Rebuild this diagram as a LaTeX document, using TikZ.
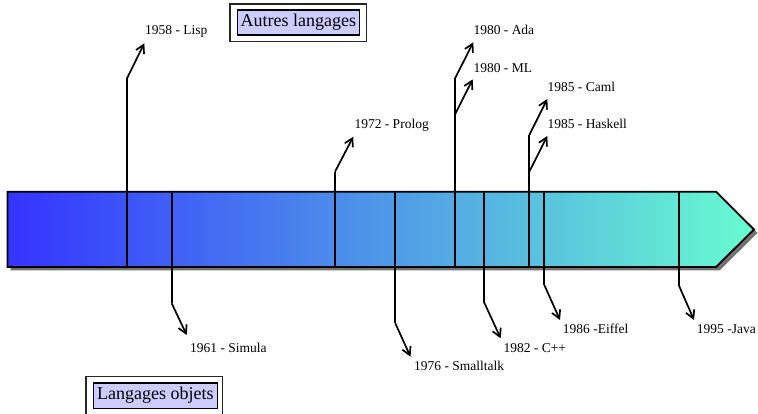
\documentclass[tikz,border=0pt]{standalone}
\usepackage{fontspec}
\setmainfont{Liberation Serif}
\usetikzlibrary{arrows.meta}
\definecolor{barleft}{RGB}{52,52,255}
\definecolor{barright}{RGB}{104,252,208}
\definecolor{boxfill}{RGB}{204,204,255}
\tikzset{
  yearline/.style={line width=1.7pt},
  yeararrow/.style={line width=1.7pt,-{Straight Barb[length=8pt,width=9pt,line width=1.7pt]}},
  yearlabel/.style={anchor=base west,inner sep=0pt,font=\fontsize{13.5}{15}\selectfont},
  titlebox/.style={draw,line width=1.6pt,fill=boxfill,inner xsep=3pt,inner ysep=2pt,font=\fontsize{18}{20}\selectfont},
}
\begin{document}
\begin{tikzpicture}[x=1pt,y=-1pt]
\useasboundingbox (0,0) rectangle (758,414);
% bar shadow
\fill[black!55] (10.5,195) -- (719.5,195) -- (757.5,233) -- (719.5,270.5) -- (10.5,270.5) -- cycle;
% bar
\shade[left color=barleft,right color=barright] (7.5,191.7) -- (716,191.7) -- (754,229.5) -- (716,267) -- (7.5,267) -- cycle;
\draw[line width=1.8pt] (7.5,191.7) -- (716,191.7) -- (754,229.5) -- (716,267) -- (7.5,267) -- cycle;

% title boxes
\draw[line width=1.4pt,draw=black!85] (230,4) rectangle (366.5,41.7);
\node[titlebox,minimum width=122pt,minimum height=25pt] (autres) at (298.3,22.5) {Autres langages};
\draw[line width=1.4pt,draw=black!85] (86,376.7) rectangle (222.7,416);
\node[titlebox,minimum width=124pt,minimum height=25.6pt] (objets) at (155.3,395.5) {Langages objets};

% labels
\node[yearlabel] (lisp) at (145,34.5) {1958 - Lisp};
\node[yearlabel] (prolog) at (354.3,128.3) {1972 - Prolog};
\node[yearlabel] (ada) at (473.3,35) {1980 - Ada};
\node[yearlabel] (ml) at (473.3,72.8) {1980 - ML};
\node[yearlabel] (caml) at (547.3,91.2) {1985 - Caml};
\node[yearlabel] (haskell) at (547.3,128.5) {1985 - Haskell};
\node[yearlabel] (simula) at (190,352.8) {1961 - Simula};
\node[yearlabel] (smalltalk) at (414,370) {1976 - Smalltalk};
\node[yearlabel] (cpp) at (503.3,352.8) {1982 - C++};
\node[yearlabel] (eiffel) at (562.7,333.8) {1986 -Eiffel};
\node[yearlabel] (java) at (696.7,333.8) {1995 -Java};

% coordinates: upward
\coordinate (lispA) at (126.7,267); \coordinate (lispB) at (126.7,79); \coordinate (lispT) at (144.3,43.3);
\coordinate (prologA) at (335,267); \coordinate (prologB) at (335,171.7); \coordinate (prologT) at (353.3,136.7);
\coordinate (adaA) at (454.7,267); \coordinate (adaB) at (454.7,79); \coordinate (adaT) at (473.3,42.3);
\coordinate (mlB) at (454.7,115); \coordinate (mlT) at (472.7,79.3);
\coordinate (camlA) at (529.3,267); \coordinate (camlB) at (529.3,135); \coordinate (camlT) at (547.3,99);
\coordinate (haskellB) at (529.3,171.7); \coordinate (haskellT) at (547.3,136);
% downward
\coordinate (simulaA) at (171.7,191.7); \coordinate (simulaB) at (171.7,303.3); \coordinate (simulaT) at (186.7,335);
\coordinate (smalltalkA) at (395.3,191.7); \coordinate (smalltalkB) at (395.3,323.3); \coordinate (smalltalkT) at (410.5,356.7);
\coordinate (cppA) at (484.3,191.7); \coordinate (cppB) at (484.3,302.7); \coordinate (cppT) at (500.7,338.3);
\coordinate (eiffelA) at (544.3,191.7); \coordinate (eiffelB) at (544.3,285); \coordinate (eiffelT) at (560,320);
\coordinate (javaA) at (678.7,191.7); \coordinate (javaB) at (678.7,285); \coordinate (javaT) at (694,320);

% connectors
\draw[yearline] (lispA) -- (lispB); \draw[yeararrow] (lispB) -- (lispT);
\draw[yearline] (prologA) -- (prologB); \draw[yeararrow] (prologB) -- (prologT);
\draw[yearline] (adaA) -- (adaB); \draw[yeararrow] (adaB) -- (adaT);
\draw[yeararrow] (mlB) -- (mlT);
\draw[yearline] (camlA) -- (camlB); \draw[yeararrow] (camlB) -- (camlT);
\draw[yeararrow] (haskellB) -- (haskellT);
\draw[yearline] (simulaA) -- (simulaB); \draw[yeararrow] (simulaB) -- (simulaT);
\draw[yearline] (smalltalkA) -- (smalltalkB); \draw[yeararrow] (smalltalkB) -- (smalltalkT);
\draw[yearline] (cppA) -- (cppB); \draw[yeararrow] (cppB) -- (cppT);
\draw[yearline] (eiffelA) -- (eiffelB); \draw[yeararrow] (eiffelB) -- (eiffelT);
\draw[yearline] (javaA) -- (javaB); \draw[yeararrow] (javaB) -- (javaT);
\end{tikzpicture}
\end{document}
